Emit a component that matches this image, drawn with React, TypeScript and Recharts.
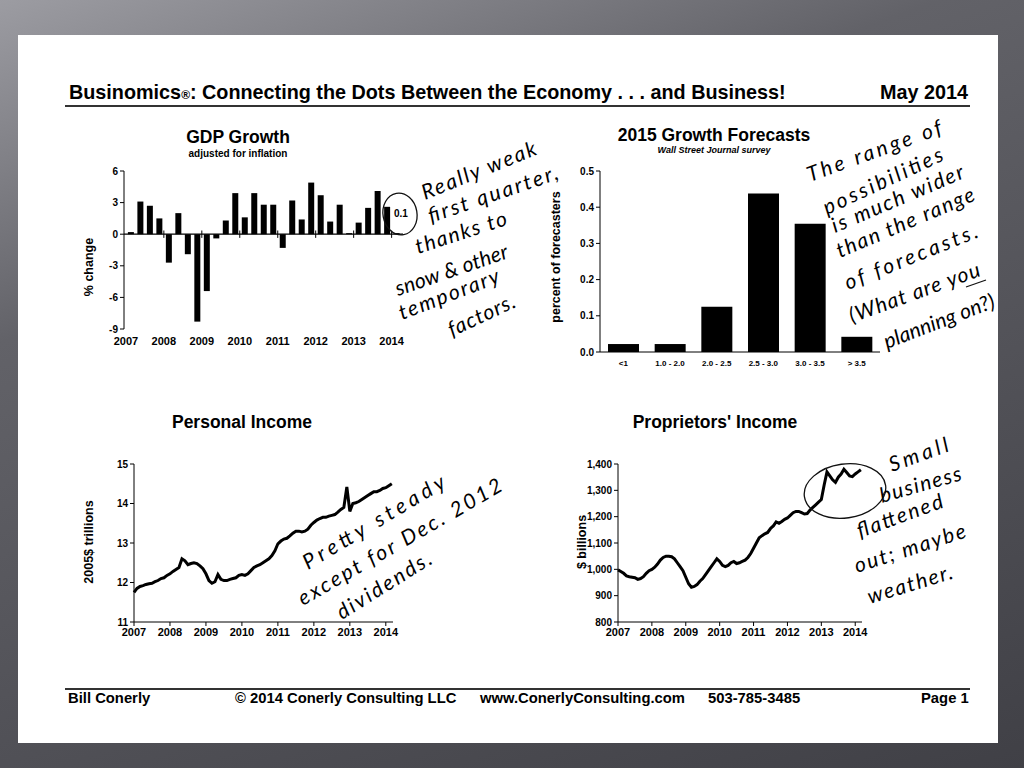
import React from 'react';
import {
  BarChart, Bar, LineChart, Line, XAxis, YAxis, ReferenceLine,
} from 'recharts';

// GDP growth, quarterly, 2007Q1 .. 2014Q1 (% change, annual rate)
const gdpQuarters = [
  '2007Q1', '2007Q2', '2007Q3', '2007Q4',
  '2008Q1', '2008Q2', '2008Q3', '2008Q4',
  '2009Q1', '2009Q2', '2009Q3', '2009Q4',
  '2010Q1', '2010Q2', '2010Q3', '2010Q4',
  '2011Q1', '2011Q2', '2011Q3', '2011Q4',
  '2012Q1', '2012Q2', '2012Q3', '2012Q4',
  '2013Q1', '2013Q2', '2013Q3', '2013Q4',
  '2014Q1',
];
const gdpValues = [
  0.2, 3.1, 2.7, 1.5,
  -2.7, 2.0, -1.9, -8.3,
  -5.4, -0.4, 1.3, 3.9,
  1.6, 3.9, 2.8, 2.8,
  -1.3, 3.2, 1.4, 4.9,
  3.7, 1.2, 2.8, 0.1,
  1.1, 2.5, 4.1, 2.6,
  0.1,
];
const gdpTicks = [-9, -6, -3, 0, 3, 6];

// 2015 growth forecasts, WSJ survey
const forecastBuckets = ['<1', '1.0 - 2.0', '2.0 - 2.5', '2.5 - 3.0', '3.0 - 3.5', '> 3.5'];
const forecastShares = [0.022, 0.022, 0.125, 0.438, 0.354, 0.042];
const forecastTicks = [0, 0.1, 0.2, 0.3, 0.4, 0.5];

const yearTicks = [2007, 2008, 2009, 2010, 2011, 2012, 2013, 2014];

// monthly, Jan 2007 .. Mar 2014
const personalIncome = [
  11.75, 11.85, 11.9, 11.92, 11.95, 11.97, 11.98, 12.02, 12.05, 12.1, 12.12, 12.18,
  12.22, 12.28, 12.33, 12.38, 12.6, 12.55, 12.45, 12.48, 12.5, 12.48, 12.42, 12.35,
  12.22, 12.05, 11.98, 12.02, 12.2, 12.08, 12.05, 12.05, 12.08, 12.1, 12.12, 12.18,
  12.2, 12.18, 12.22, 12.3, 12.38, 12.42, 12.45, 12.5, 12.55, 12.6, 12.68, 12.8,
  12.98, 13.05, 13.1, 13.12, 13.18, 13.25, 13.3, 13.3, 13.28, 13.3, 13.35, 13.45,
  13.52, 13.58, 13.62, 13.65, 13.65, 13.68, 13.7, 13.72, 13.78, 13.85, 13.9, 14.42,
  13.8, 14.0, 14.02, 14.05, 14.1, 14.15, 14.2, 14.25, 14.3, 14.3, 14.33, 14.38,
  14.4, 14.45, 14.5,
];
const personalTicks = [11, 12, 13, 14, 15];

const proprietorsIncome = [
  998, 992, 985, 975, 972, 970, 968, 962, 965, 972, 985, 995,
  1000, 1008, 1020, 1035, 1045, 1050, 1050, 1048, 1040, 1025, 1010, 995,
  970, 945, 932, 935, 942, 955, 965, 980, 995, 1010, 1025, 1040,
  1030, 1015, 1010, 1015, 1025, 1030, 1022, 1025, 1030, 1035, 1045, 1060,
  1080, 1100, 1120, 1128, 1135, 1140, 1155, 1165, 1180, 1175, 1182, 1190,
  1195, 1205, 1215, 1220, 1220, 1215, 1210, 1212, 1225, 1235, 1245, 1255,
  1265, 1320, 1370, 1355, 1340, 1330, 1350, 1362, 1380, 1368, 1355, 1352,
  1362, 1370, 1378,
];
const proprietorsTicks = [800, 900, 1000, 1100, 1200, 1300, 1400];

const gdpData = gdpQuarters.map((q, i) => ({
  t: Number(q.slice(0, 4)) + (Number(q.slice(5)) - 1) / 4 + 0.125,
  value: gdpValues[i],
}));
const forecastData = forecastBuckets.map((name, i) => ({ name, value: forecastShares[i] }));
const personalData = personalIncome.map((v, i) => ({ t: 2007 + i / 12, value: v }));
const proprietorsData = proprietorsIncome.map((v, i) => ({ t: 2007 + i / 12, value: v }));

// handwritten notes: [text, x, y, angle, length]
type NoteLine = [string, number, number, number, number];
const gdpNote: NoteLine[] = [
  ['Really weak', 425, 200, -22, 122],
  ['first quarter,', 431, 223, -19, 136],
  ['thanks to', 418, 254, -18, 95],
  ['snow & other', 398, 296, -19, 118],
  ['temporary', 402, 320, -21, 106],
  ['factors.', 452, 337, -25, 72],
];
const forecastNote: NoteLine[] = [
  ['The range of', 810, 182, -20, 142],
  ['possibilities', 827, 215, -25, 130],
  ['is much wider', 835, 233, -23, 142],
  ['than the range', 840, 258, -23, 148],
  ['of forecasts.', 848, 290, -22, 142],
  ['(What are you', 852, 323, -20, 138],
  ['planning on?)', 887, 349, -21, 117],
];
const personalNote: NoteLine[] = [
  ['Pretty steady', 308, 570, -31, 162],
  ['except for Dec. 2012', 303, 606, -30, 232],
  ['dividends.', 342, 620, -32, 108],
];
const proprietorsNote: NoteLine[] = [
  ['Small', 892, 472, -20, 62],
  ['business', 882, 503, -16, 84],
  ['flattened', 860, 538, -20, 90],
  ['out; maybe', 857, 573, -18, 116],
  ['weather.', 870, 604, -17, 88],
];

const FONT = '"Liberation Sans", Arial, sans-serif';
const HAND = 'Lato, "Open Sans", sans-serif';
const tickStyle = { fill: '#000', fontSize: 10, fontWeight: 700, fontFamily: FONT };
const yearStyle = { fill: '#000', fontSize: 11, fontWeight: 700, fontFamily: FONT };

function Abs({ x, y, children, style }: { x: number; y: number; children: React.ReactNode; style?: React.CSSProperties }) {
  return (
    <div style={{ position: 'absolute', left: x, top: y, fontFamily: FONT, color: '#000', whiteSpace: 'nowrap', ...style }}>
      {children}
    </div>
  );
}

function Title({ cx, y, text, size = 17.5 }: { cx: number; y: number; text: string; size?: number }) {
  return (
    <Abs x={cx - 150} y={y} style={{ width: 300, textAlign: 'center', fontWeight: 700, fontSize: size }}>
      {text}
    </Abs>
  );
}

function VLabel({ cx, cy, text }: { cx: number; cy: number; text: string }) {
  return (
    <Abs x={cx - 90} y={cy - 8} style={{ width: 180, textAlign: 'center', fontWeight: 700, fontSize: 12.5, transform: 'rotate(-90deg)' }}>
      {text}
    </Abs>
  );
}

function NoteText({ lines }: { lines: NoteLine[] }) {
  return (
    <g fontFamily={HAND} fontStyle="italic" fontSize={21} fill="#000">
      {lines.map(([t, x, y, a, len]) => (
        <text key={t} x={x} y={y} transform={`rotate(${a} ${x} ${y})`} textLength={len} lengthAdjust="spacing">{t}</text>
      ))}
    </g>
  );
}

export default function App() {
  return (
    <div style={{ position: 'absolute', left: 0, top: 0, width: 1024, height: 768, overflow: 'hidden', background: 'linear-gradient(160deg, #9c9ca2 0%, #626268 30%, #404046 100%)' }}>
      <div style={{ position: 'absolute', left: 18, top: 35, width: 980, height: 708, background: '#fff' }} />

      {/* header */}
      <Abs x={69} y={81} style={{ fontSize: 19.8, fontWeight: 700 }}>
        Businomics<span style={{ fontSize: 12 }}>®</span>: Connecting the Dots Between the Economy . . . and Business!
      </Abs>
      <Abs x={880} y={81} style={{ fontSize: 19.8, fontWeight: 700 }}>May 2014</Abs>
      <div style={{ position: 'absolute', left: 65, top: 105, width: 905, height: 2, background: '#333' }} />

      {/* GDP growth */}
      <Title cx={238} y={127} text="GDP Growth" />
      <Abs x={138} y={148} style={{ width: 200, textAlign: 'center', fontSize: 10, fontWeight: 700 }}>adjusted for inflation</Abs>
      <VLabel cx={89} cy={268} text="% change" />
      <div style={{ position: 'absolute', left: 60, top: 160 }}>
        <BarChart width={360} height={200} data={gdpData} margin={{ top: 11, right: 17, left: 34, bottom: 11 }}>
          <XAxis dataKey="t" type="number" domain={[2006.95, 2014.3]} ticks={yearTicks} axisLine={false} tickLine={false} tick={yearStyle} height={20} interval={0} />
          <YAxis type="number" domain={[-9, 6]} ticks={gdpTicks} tick={tickStyle} width={30} stroke="#000" tickSize={4} interval={0} />
          <ReferenceLine y={0} stroke="#000" strokeWidth={1.2} />
          {yearTicks.slice(1).map((yr) => (
            <ReferenceLine key={yr} segment={[{ x: yr, y: -0.35 }, { x: yr, y: 0.35 }]} stroke="#000" />
          ))}
          <Bar dataKey="value" fill="#000" barSize={6} isAnimationActive={false} />
        </BarChart>
      </div>
      <Abs x={394} y={208} style={{ fontSize: 10, fontWeight: 700 }}>0.1</Abs>

      {/* 2015 growth forecasts */}
      <Title cx={714} y={125} text="2015 Growth Forecasts" />
      <Abs x={614} y={145} style={{ width: 200, textAlign: 'center', fontSize: 9, fontWeight: 700, fontStyle: 'italic' }}>Wall Street Journal survey</Abs>
      <VLabel cx={556} cy={258} text="percent of forecasters" />
      <div style={{ position: 'absolute', left: 545, top: 160 }}>
        <BarChart width={345} height={220} data={forecastData} margin={{ top: 11, right: 10, left: 20, bottom: 8 }}>
          <XAxis dataKey="name" tick={{ ...tickStyle, fontSize: 8 }} stroke="#000" tickLine={false} height={20} interval={0} />
          <YAxis type="number" domain={[0, 0.5]} ticks={forecastTicks} tickFormatter={(v: number) => v.toFixed(1)} tick={tickStyle} width={35} stroke="#000" tickSize={4} interval={0} />
          <Bar dataKey="value" fill="#000" barSize={31} isAnimationActive={false} />
        </BarChart>
      </div>

      {/* Personal income */}
      <Title cx={242} y={412} text="Personal Income" />
      <VLabel cx={89} cy={543} text="2005$ trillions" />
      <div style={{ position: 'absolute', left: 60, top: 450 }}>
        <LineChart width={345} height={200} data={personalData} margin={{ top: 14, right: 12, left: 44, bottom: 8 }}>
          <XAxis dataKey="t" type="number" domain={[2007, 2014.2]} ticks={yearTicks} tick={yearStyle} stroke="#000" tickSize={4} height={20} interval={0} />
          <YAxis type="number" domain={[11, 15]} ticks={personalTicks} tick={tickStyle} width={30} stroke="#000" tickSize={4} interval={0} />
          <Line dataKey="value" stroke="#000" strokeWidth={3} dot={false} isAnimationActive={false} />
        </LineChart>
      </div>

      {/* Proprietors' income */}
      <Title cx={715} y={412} text="Proprietors' Income" />
      <VLabel cx={582} cy={543} text="$ billions" />
      <div style={{ position: 'absolute', left: 555, top: 450 }}>
        <LineChart width={320} height={200} data={proprietorsData} margin={{ top: 14, right: 13, left: 20, bottom: 8 }}>
          <XAxis dataKey="t" type="number" domain={[2007, 2014.2]} ticks={yearTicks} tick={yearStyle} stroke="#000" tickSize={4} height={20} interval={0} />
          <YAxis type="number" domain={[800, 1400]} ticks={proprietorsTicks} tickFormatter={(v: number) => v.toLocaleString('en-US')} tick={tickStyle} width={43} stroke="#000" tickSize={4} interval={0} />
          <Line dataKey="value" stroke="#000" strokeWidth={3} dot={false} isAnimationActive={false} />
        </LineChart>
      </div>

      {/* handwritten notes */}
      <svg width={1024} height={768} style={{ position: 'absolute', left: 0, top: 0, pointerEvents: 'none' }}>
        <ellipse cx={400} cy={214} rx={17} ry={21} fill="none" stroke="#111" strokeWidth={1.3} transform="rotate(-10 400 214)" />
        <ellipse cx={845} cy={491} rx={41} ry={27} fill="none" stroke="#111" strokeWidth={1.3} transform="rotate(-8 845 491)" />
        <line x1={966} y1={287} x2={986} y2={280} stroke="#111" strokeWidth={1.3} />
        <NoteText lines={gdpNote} />
        <NoteText lines={forecastNote} />
        <NoteText lines={personalNote} />
        <NoteText lines={proprietorsNote} />
      </svg>

      {/* footer */}
      <div style={{ position: 'absolute', left: 65, top: 688, width: 905, height: 2, background: '#333' }} />
      <Abs x={68} y={690} style={{ fontSize: 14.8, fontWeight: 700 }}>Bill Conerly</Abs>
      <Abs x={235} y={690} style={{ fontSize: 14.8, fontWeight: 700 }}>© 2014 Conerly Consulting LLC</Abs>
      <Abs x={480} y={690} style={{ fontSize: 14.8, fontWeight: 700 }}>www.ConerlyConsulting.com</Abs>
      <Abs x={708} y={690} style={{ fontSize: 14.8, fontWeight: 700 }}>503-785-3485</Abs>
      <Abs x={921} y={690} style={{ fontSize: 14.8, fontWeight: 700 }}>Page 1</Abs>
    </div>
  );
}
